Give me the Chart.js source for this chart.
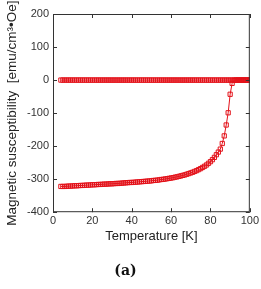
<!DOCTYPE html>
<html>
<head>
<meta charset="utf-8">
<script src="https://cdn.jsdelivr.net/npm/chart.js@4"></script>
<style>
  html, body { margin: 0; padding: 0; background: #fff; }
  #wrap { width: 261px; height: 289px; }
</style>
</head>
<body>
<div id="wrap"><canvas id="chiChart" width="261" height="289"></canvas></div>
<script>
// temperatures (K) and susceptibility (emu/cm3·Oe)
const tempFC = [4, 5, 6, 7, 8, 9, 10, 11, 12, 13, 14, 15, 16, 17, 18, 19, 20, 21, 22, 23, 24, 25, 26, 27, 28, 29,
  30, 31, 32, 33, 34, 35, 36, 37, 38, 39, 40, 41, 42, 43, 44, 45, 46, 47, 48, 49, 50, 51, 52, 53, 54, 55, 56, 57, 58, 59,
  60, 61, 62, 63, 64, 65, 66, 67, 68, 69, 70, 71, 72, 73, 74, 75, 76, 77, 78, 79, 80, 81, 82, 83, 84, 85, 86, 87, 88, 89,
  90, 91, 92, 93, 94, 95, 96, 97, 98, 99, 100];
const chiFC = [0, 0, 0, 0, 0, 0, 0, 0, 0, 0, 0, 0, 0, 0, 0, 0, 0, 0, 0, 0, 0, 0, 0, 0, 0, 0,
  0, 0, 0, 0, 0, 0, 0, 0, 0, 0, 0, 0, 0, 0, 0, 0, 0, 0, 0, 0, 0, 0, 0, 0, 0, 0, 0, 0, 0, 0,
  0, 0, 0, 0, 0, 0, 0, 0, 0, 0, 0, 0, 0, 0, 0, 0, 0, 0, 0, 0, 0, 0, 0, 0, 0, 0, 0, 0, 0, 0,
  0, 0, 0, 0, 0, 0, 0, 0, 0, 0, 0];
const tempZFC = [4, 5, 6, 7, 8, 9, 10, 11, 12, 13, 14, 15, 16, 17, 18, 19, 20, 21, 22, 23, 24, 25, 26, 27, 28, 29,
  30, 31, 32, 33, 34, 35, 36, 37, 38, 39, 40, 41, 42, 43, 44, 45, 46, 47, 48, 49, 50, 51, 52, 53, 54, 55, 56, 57, 58, 59,
  60, 61, 62, 63, 64, 65, 66, 67, 68, 69, 70, 71, 72, 73, 74, 75, 76, 77, 78, 79, 80, 81, 82, 83, 84, 85, 86, 87, 88, 89,
  90, 91, 92, 93, 94, 95, 96, 97, 98, 99, 100];
const chiZFC = [-322, -322, -322, -321.5, -321, -321, -320.5, -320, -320, -319.5, -319, -319, -318.5, -318, -318, -317.5,
  -317, -317, -316.5, -316, -316, -315.5, -315, -315, -314.5, -314,
  -314, -313.5, -313, -313, -312.5, -312, -311.5, -311, -310.5, -310, -310, -309.5, -309, -308.5, -308, -307.5,
  -307, -306.5, -306, -305.5, -305, -304, -303.5, -303, -302, -301, -300.5, -299.5, -298.5, -297.5,
  -296.5, -295.5, -294, -293, -291.5, -290, -288.5, -287, -285, -283, -281, -279, -276.5, -274, -271, -268,
  -264.5, -261, -257, -252, -247, -241, -234, -226, -218, -209, -192, -169, -136, -99,
  -43, -10, -1, 0, 0, 0, 0, 0, 0, 0, 0];
const xTicks = [0, 20, 40, 60, 80, 100];
const yTicks = [-400, -300, -200, -100, 0, 100, 200];

const red = '#e3121a';
const axisFont = { family: 'Liberation Sans, Arial, sans-serif', size: 11 };

const frameTicks = {
  id: 'frameTicks',
  afterDatasetsDraw(chart) {
    const { ctx, chartArea: a, scales: { x, y } } = chart;
    ctx.save();
    ctx.strokeStyle = '#333';
    ctx.lineWidth = 1;
    ctx.strokeRect(a.left + 0.5, a.top + 0.5, a.right - a.left - 1, a.bottom - a.top - 1);
    ctx.beginPath();
    xTicks.forEach(v => {
      const px = Math.round(x.getPixelForValue(v)) + 0.5;
      ctx.moveTo(px, a.bottom); ctx.lineTo(px, a.bottom - 4);
      ctx.moveTo(px, a.top); ctx.lineTo(px, a.top + 4);
    });
    yTicks.forEach(v => {
      const py = Math.round(y.getPixelForValue(v)) + 0.5;
      ctx.moveTo(a.left, py); ctx.lineTo(a.left + 4, py);
      ctx.moveTo(a.right, py); ctx.lineTo(a.right - 4, py);
    });
    ctx.stroke();
    ctx.restore();
  }
};

const pts = (xs, ys) => xs.map((t, i) => ({ x: t, y: ys[i] }));

new Chart(document.getElementById('chiChart'), {
  type: 'line',
  data: {
    datasets: [
      { label: 'FC', data: pts(tempFC, chiFC), borderColor: red, borderWidth: 1, pointStyle: 'rect',
        pointRadius: 3, pointBorderWidth: 1, pointBorderColor: red, pointBackgroundColor: 'rgba(0,0,0,0)' },
      { label: 'ZFC', data: pts(tempZFC, chiZFC), borderColor: red, borderWidth: 1, pointStyle: 'rect',
        pointRadius: 3, pointBorderWidth: 1, pointBorderColor: red, pointBackgroundColor: 'rgba(0,0,0,0)' }
    ]
  },
  options: {
    responsive: false,
    animation: false,
    layout: { padding: { top: 14, right: 10, left: 0, bottom: 0 } },
    plugins: {
      legend: { display: false },
      tooltip: { enabled: false },
      title: {
        display: true, position: 'bottom', text: '(a)', color: '#111',
        font: { family: 'DejaVu Serif, serif', size: 14, weight: 'bold' },
        padding: { top: 11, bottom: 9 }
      }
    },
    scales: {
      x: {
        type: 'linear', min: 0, max: 100,
        afterBuildTicks: s => { s.ticks = xTicks.map(v => ({ value: v })); },
        afterFit: s => { s.height = 40; },
        grid: { display: false, drawTicks: false },
        border: { display: false },
        ticks: { color: '#333', font: axisFont, padding: 2, maxRotation: 0 },
        title: { display: true, text: 'Temperature [K]', color: '#222',
          font: { family: 'Liberation Sans, Arial, sans-serif', size: 13 }, padding: { top: 0, bottom: 8 } }
      },
      y: {
        min: -400, max: 200,
        afterBuildTicks: s => { s.ticks = yTicks.map(v => ({ value: v })); },
        afterFit: s => { s.width = 53; },
        grid: { display: false, drawTicks: false },
        border: { display: false },
        ticks: { color: '#333', font: axisFont, padding: 4 },
        title: { display: true, text: 'Magnetic susceptibility  [emu/cm³•Oe]', color: '#222',
          font: { family: 'Liberation Sans, Arial, sans-serif', size: 13.5 }, padding: { top: 4, bottom: 0 } }
      }
    }
  },
  plugins: [frameTicks]
});
</script>
</body>
</html>
